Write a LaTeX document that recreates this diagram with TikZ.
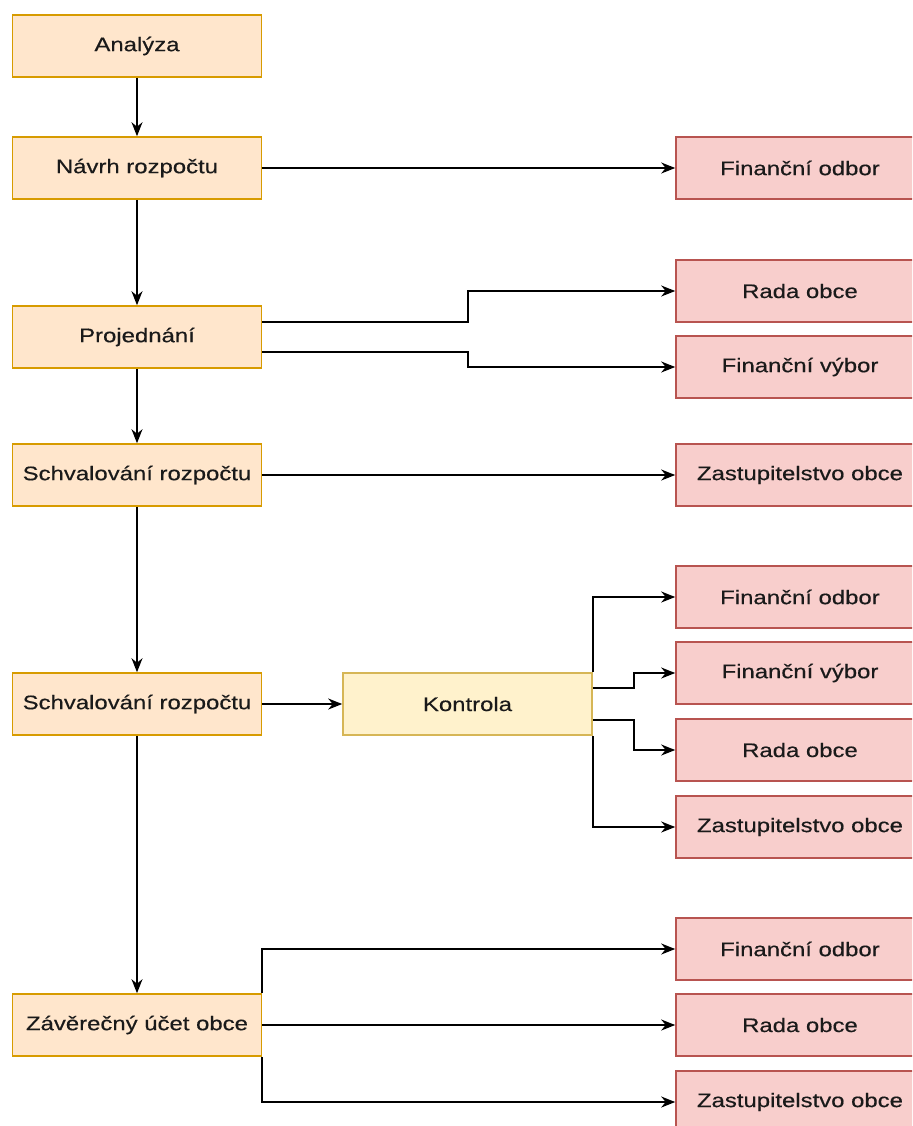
\documentclass[tikz,border=0pt]{standalone}
\usepackage{fontspec}
\setmainfont[FakeStretch=1.22,FakeBold=0.4]{Liberation Sans}
\usetikzlibrary{arrows.meta}
\definecolor{stepfill}{HTML}{FFE6CC}
\definecolor{stepline}{HTML}{D79B00}
\definecolor{orgfill}{HTML}{F8CECC}
\definecolor{orgline}{HTML}{B85450}
\definecolor{ctrlfill}{HTML}{FFF2CC}
\definecolor{ctrlline}{HTML}{D6B656}
\definecolor{textgray}{HTML}{1A1A1A}

\begin{document}
\begin{tikzpicture}[x=0.5pt,y=-0.5pt,line width=1pt,
    stepbox/.style={rectangle,draw=stepline,line width=0.8pt,fill=stepfill,minimum width=124.5pt,minimum height=31pt,inner sep=0pt},
    orgbox/.style={rectangle,draw=orgline,line width=0.8pt,fill=orgfill,minimum width=124pt,minimum height=31pt,inner sep=0pt},
    ctrlbox/.style={rectangle,draw=ctrlline,line width=0.8pt,fill=ctrlfill,minimum width=124.5pt,minimum height=31pt,inner sep=0pt},
    arr/.style={-{Stealth[length=7pt,width=5.5pt]},black},
    font=\fontsize{9.8}{11}\selectfont,text=textgray]
    \clip (0,0) rectangle (912,1126);
    \fill[white] (0,0) rectangle (912,1126);

    %process steps
    \node (A) at (137,46) [stepbox]{Analýza};
    \node (N) at (137,168) [stepbox]{Návrh rozpočtu};
    \node (P) at (137,337) [stepbox]{Projednání};
    \node (S1) at (137,475) [stepbox]{Schvalování rozpočtu};
    \node (S2) at (137,704) [stepbox]{Schvalování rozpočtu};
    \node (Z) at (137,1025) [stepbox]{Závěrečný účet obce};
    \node (K) at (467.5,704) [ctrlbox]{Kontrola};

    %bodies
    \node (FO1) at (800,168) [orgbox]{Finanční odbor};
    \node (RO1) at (800,291) [orgbox]{Rada obce};
    \node (FV1) at (800,367) [orgbox]{Finanční výbor};
    \node (ZO1) at (800,475) [orgbox]{Zastupitelstvo obce};
    \node (FO2) at (800,597) [orgbox]{Finanční odbor};
    \node (FV2) at (800,673) [orgbox]{Finanční výbor};
    \node (RO2) at (800,750) [orgbox]{Rada obce};
    \node (ZO2) at (800,827) [orgbox]{Zastupitelstvo obce};
    \node (FO3) at (800,949) [orgbox]{Finanční odbor};
    \node (RO3) at (800,1025) [orgbox]{Rada obce};
    \node (ZO3) at (800,1102) [orgbox]{Zastupitelstvo obce};

    %down the steps
    \draw [arr] (A.south) to (N.north);
    \draw [arr] (N.south) to (P.north);
    \draw [arr] (P.south) to (S1.north);
    \draw [arr] (S1.south) to (S2.north);
    \draw [arr] (S2.south) to (Z.north);

    %to the bodies
    \draw [arr] (N.east) to (FO1.west);
    \draw [arr] ([yshift=7.5pt]P.east) -- ++(206,0) |- (RO1.west);
    \draw [arr] ([yshift=-7.5pt]P.east) -- ++(206,0) |- (FV1.west);
    \draw [arr] (S1.east) to (ZO1.west);
    \draw [arr] (S2.east) to (K.west);
    \draw [arr] (K.north east) |- (FO2.west);
    \draw [arr] ([yshift=8pt]K.east) -- ++(41,0) |- (FV2.west);
    \draw [arr] ([yshift=-8pt]K.east) -- ++(41,0) |- (RO2.west);
    \draw [arr] (K.south east) |- (ZO2.west);
    \draw [arr] (Z.north east) |- (FO3.west);
    \draw [arr] (Z.east) to (RO3.west);
    \draw [arr] (Z.south east) |- (ZO3.west);
  \end{tikzpicture}
\end{document}
